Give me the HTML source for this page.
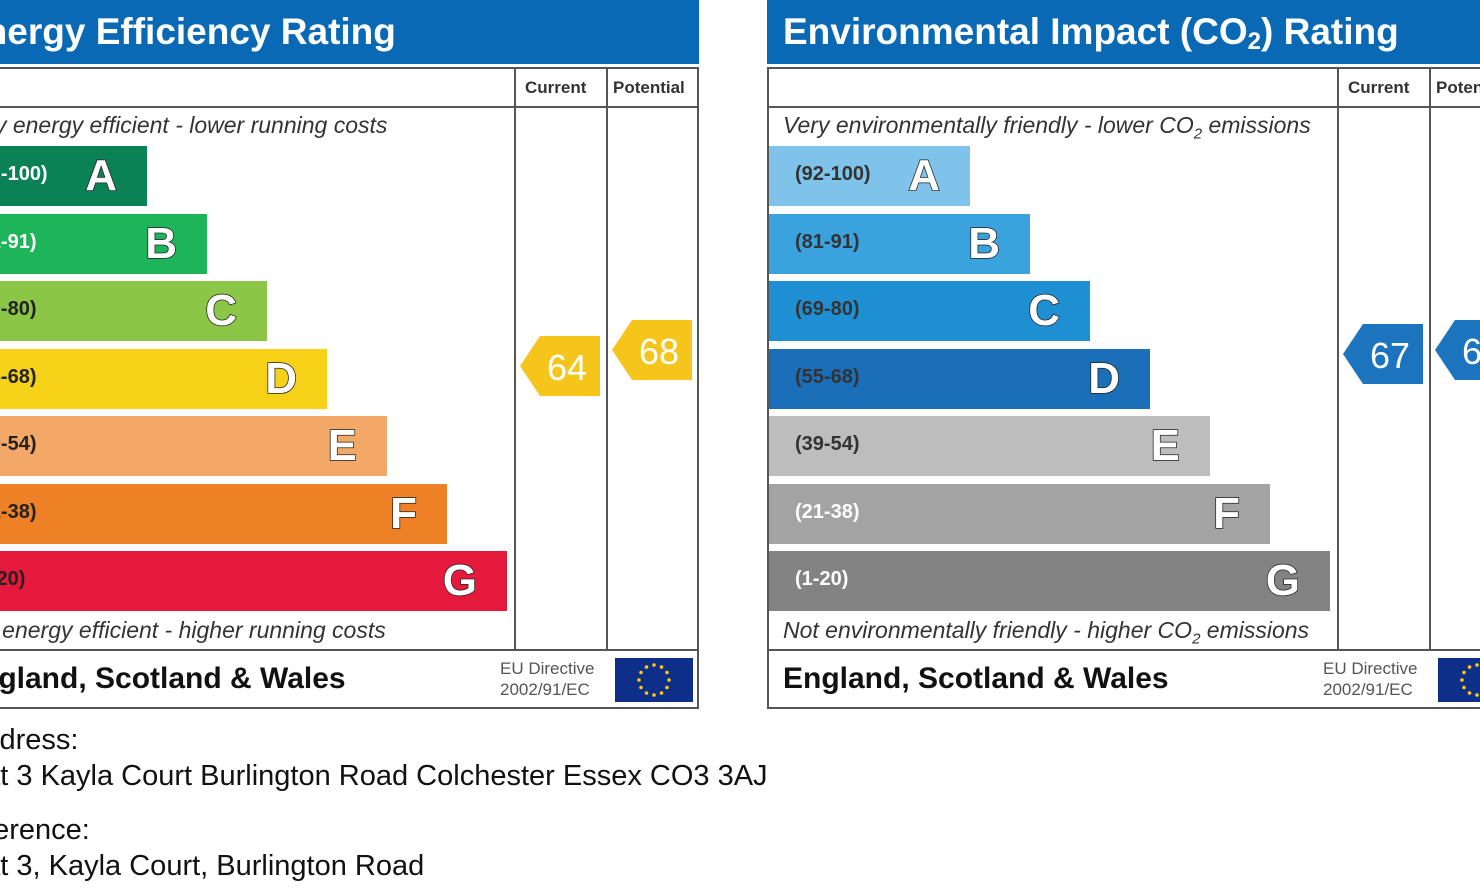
<!DOCTYPE html>
<html><head><meta charset="utf-8">
<style>
html,body{margin:0;padding:0;width:1480px;height:891px;overflow:hidden;background:#fff;font-family:"Liberation Sans",sans-serif;position:relative}
.a{position:absolute}
.hdr{background:#0a69b4;color:#fff;font-weight:bold;font-size:37px;height:64px;top:0;line-height:64px;white-space:nowrap;overflow:hidden}
.box{border:2px solid #555;top:67px;height:642px;box-sizing:border-box}
.vl{background:#555;width:2px}
.hl{background:#555;height:2px}
.colh{font-weight:bold;font-size:17px;color:#333;top:78px;white-space:nowrap}
.ital{font-style:italic;font-size:23px;color:#333;white-space:nowrap}
.bar{height:60px}
.rng{font-weight:bold;font-size:20px;top:17px;left:26px;white-space:nowrap}
.let{font-weight:bold;font-size:44px;color:#fff;top:5px;-webkit-text-stroke:1.5px #222;paint-order:stroke fill}
.esw{font-weight:bold;font-size:30px;color:#111;white-space:nowrap;top:662px}
.eu{font-size:17px;color:#555;line-height:21px;top:658px;white-space:nowrap}
.flag{background:#0d2f8a;width:78px;height:44px;top:658px}
.addr{font-size:29px;color:#111;white-space:nowrap}
</style></head><body>
<script>
const bandLetters=['A','B','C','D','E','F','G'];
const bandRanges=['(92-100)','(81-91)','(69-80)','(55-68)','(39-54)','(21-38)','(1-20)'];
const eeColors=['#0b8156','#1db45a','#8cc646','#f7d117','#f4a867','#ee8125','#e5193c'];
const envColors=['#7fc3ea','#3aa3de','#1f8fd3','#1b6fb8','#bdbdbd','#a3a3a3','#838383'];
const envRangeColors=['#333','#333','#333','#333','#333','#fff','#fff'];
const eeRangeColors=['#fff','#fff','#222','#222','#222','#222','#222'];
const eeCurrent=64, eePotential=68;
const envCurrent=67, envPotential=68;
function yOf(v){return 622-4*v;}
function mk(tag,cls,name,inter,style,txt){const e=document.createElement(tag);e.className=cls;


e.style.cssText=style;if(txt!==undefined)e.innerHTML=txt;document.body.appendChild(e);return e;}
function panel(x0,pre,title,top,bottom,colors,rcols,cur,pot,arrowCol){
 const W=Math.min(755,1480-x0);
 mk('div','a hdr',pre+'-title','false',`left:${x0}px;width:${W}px;padding-left:16px;box-sizing:border-box`,title);
 mk('div','a box',pre+'-frame','false',`left:${x0}px;width:${x0+755>1480?W+4:755}px`);
 mk('div','a vl',pre+'-current-divider','false',`left:${x0+570}px;top:67px;height:584px`);
 mk('div','a vl',pre+'-potential-divider','false',`left:${x0+662}px;top:67px;height:584px`);
 mk('div','a hl',pre+'-header-line','false',`left:${x0}px;top:106px;width:${W}px`);
 mk('div','a hl',pre+'-footer-line','false',`left:${x0}px;top:649px;width:${W}px`);
 mk('div','a colh',pre+'-current-header','false',`left:${x0+581}px`,'Current');
 mk('div','a colh',pre+'-potential-header','false',`left:${x0+669}px`,'Potential');
 mk('div','a ital',pre+'-top-caption','false',`left:${x0+16}px;top:112px`,top);
 mk('div','a ital',pre+'-bottom-caption','false',`left:${x0+16}px;top:617px`,bottom);
 for(let i=0;i<bandLetters.length;i++){
  const w=201+60*i, y=146+67.5*i;
  const b=mk('div','a bar',pre+'-band-'+bandLetters[i].toLowerCase(),'false',`left:${x0+2}px;top:${y}px;width:${w}px;background:${colors[i]}`);
  const r=document.createElement('div');r.className='a rng';r.style.color=rcols[i];r.textContent=bandRanges[i];
  
  
  b.appendChild(r);
  const l=document.createElement('div');l.className='a let';l.style.right='30px';l.textContent=bandLetters[i];
  
  
  b.appendChild(l);
 }
 [[cur,576,'current'],[pot,668,'potential']].forEach(([v,dx,n])=>{
  const cy=yOf(v);
  const s=mk('div','a',pre+'-'+n+'-arrow','false',`left:${x0+dx}px;top:${cy-30}px;width:80px;height:60px`);
  s.innerHTML=`<svg width="80" height="60" style="position:absolute;left:0;top:0"><polygon points="0,30 20,0 80,0 80,60 20,60" fill="${arrowCol}"/></svg><div style="position:absolute;left:16px;width:62px;top:11px;text-align:center;color:#fff;font-size:36px">${v}</div>`;
 });
 mk('div','a esw',pre+'-region','false',`left:${x0+16}px`,'England, Scotland &amp; Wales');
 mk('div','a eu',pre+'-eu-directive','false',`left:${x0+556}px`,'EU Directive<br>2002/91/EC');
 const f=mk('div','a flag',pre+'-eu-flag','false',`left:${x0+671}px`);
 let st='';for(let k=0;k<12;k++){const a=k*Math.PI/6;st+=`<circle cx="${39+15*Math.sin(a)}" cy="${22-15*Math.cos(a)}" r="1.8" fill="#fc0"/>`;}
 f.innerHTML=`<svg width="78" height="44">${st}</svg>`;
}
panel(-56,'energy','Energy Efficiency Rating','Very energy efficient - lower running costs','Not energy efficient - higher running costs',eeColors,eeRangeColors,eeCurrent,eePotential,'#f5c51c');
panel(767,'environmental','Environmental Impact (CO<sub style="font-size:24px;vertical-align:-5px">2</sub>) Rating','Very environmentally friendly - lower CO<sub style="font-size:15px">2</sub> emissions','Not environmentally friendly - higher CO<sub style="font-size:15px">2</sub> emissions',envColors,envRangeColors,envCurrent,envPotential,'#1b74bd');
mk('div','a addr','address-label','false','top:724px;left:-36px','Address:');
mk('div','a addr','address-value','false','top:760px;left:-40px','Flat 3 Kayla Court Burlington Road Colchester Essex CO3 3AJ');
mk('div','a addr','reference-label','false','top:814px;left:-52px','Reference:');
mk('div','a addr','reference-value','false','top:850px;left:-40px','Flat 3, Kayla Court, Burlington Road');
</script>
</body></html>
